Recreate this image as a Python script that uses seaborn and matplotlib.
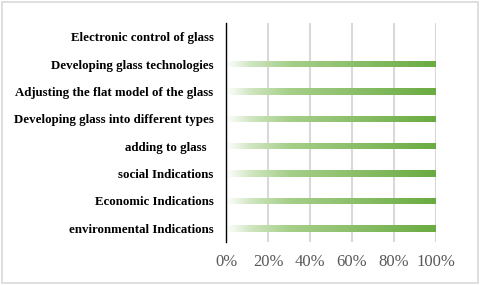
import numpy as np
import pandas as pd
import matplotlib
matplotlib.use("Agg")
import matplotlib.pyplot as plt
from matplotlib.colors import LinearSegmentedColormap
from matplotlib.patches import Rectangle
import seaborn as sns

categories = [
    "Electronic control of glass",
    "Developing glass technologies",
    "Adjusting the flat model of the glass",
    "Developing glass into different types",
    "adding to glass  ",
    "social Indications",
    "Economic Indications",
    "environmental Indications",
]
values = [0, 100, 100, 100, 100, 100, 100, 100]
tick_values = [0, 20, 40, 60, 80, 100]
tick_labels = ["0%", "20%", "40%", "60%", "80%", "100%"]

sns.set_theme(style="white")
plt.rcParams["font.family"] = ["Liberation Serif", "DejaVu Serif"]

fig = plt.figure(figsize=(4.8, 2.85), dpi=100)
ax = fig.add_axes([0.471, 0.151, 0.437, 0.768])

df = pd.DataFrame({"cat": categories, "val": values})
sns.barplot(data=df, x="val", y="cat", orient="h", ax=ax, width=0.24,
            color="#70ad47", order=categories)

cmap = LinearSegmentedColormap.from_list(
    "g", [(0, "#ffffff"), (0.12, "#cfe6bf"), (0.3, "#a6cf8a"), (1.0, "#6aab41")])
grad = np.linspace(0, 1, 256).reshape(1, -1)
for p in ax.patches:
    x0, y0 = p.get_x(), p.get_y()
    w, h = p.get_width(), p.get_height()
    if w <= 0:
        continue
    p.set_facecolor("none")
    p.set_edgecolor("none")
    im = ax.imshow(grad, cmap=cmap, aspect="auto",
                   extent=[x0, x0 + w, y0 + h, y0], zorder=3,
                   interpolation="bicubic")
    im.set_clip_path(p)

ax.set_xlim(0, 100)
ax.set_ylim(len(categories) - 0.5, -0.5)
ax.set_xticks(tick_values)
ax.set_xticklabels(tick_labels)
ax.xaxis.grid(True, color="#d9d9d9", linewidth=1.5, zorder=0)
ax.set_axisbelow(True)
ax.set_xlabel("")
ax.set_ylabel("")
for s in ["top", "right", "bottom"]:
    ax.spines[s].set_visible(False)
ax.spines["left"].set_color("black")
ax.spines["left"].set_linewidth(1.0)
ax.spines["left"].set_zorder(6)
ax.tick_params(axis="x", length=0, labelsize=12, labelcolor="#595959", pad=9)
ax.tick_params(axis="y", length=0, pad=9)
for lbl in ax.get_yticklabels():
    lbl.set_fontweight("bold")
    lbl.set_fontsize(9.3)
    lbl.set_color("black")

fig.patches.append(Rectangle((0.005, 0.007), 0.99, 0.986, transform=fig.transFigure,
                             fill=False, edgecolor="#d9d9d9", linewidth=1.2))

fig.savefig("out.png", dpi=100)
